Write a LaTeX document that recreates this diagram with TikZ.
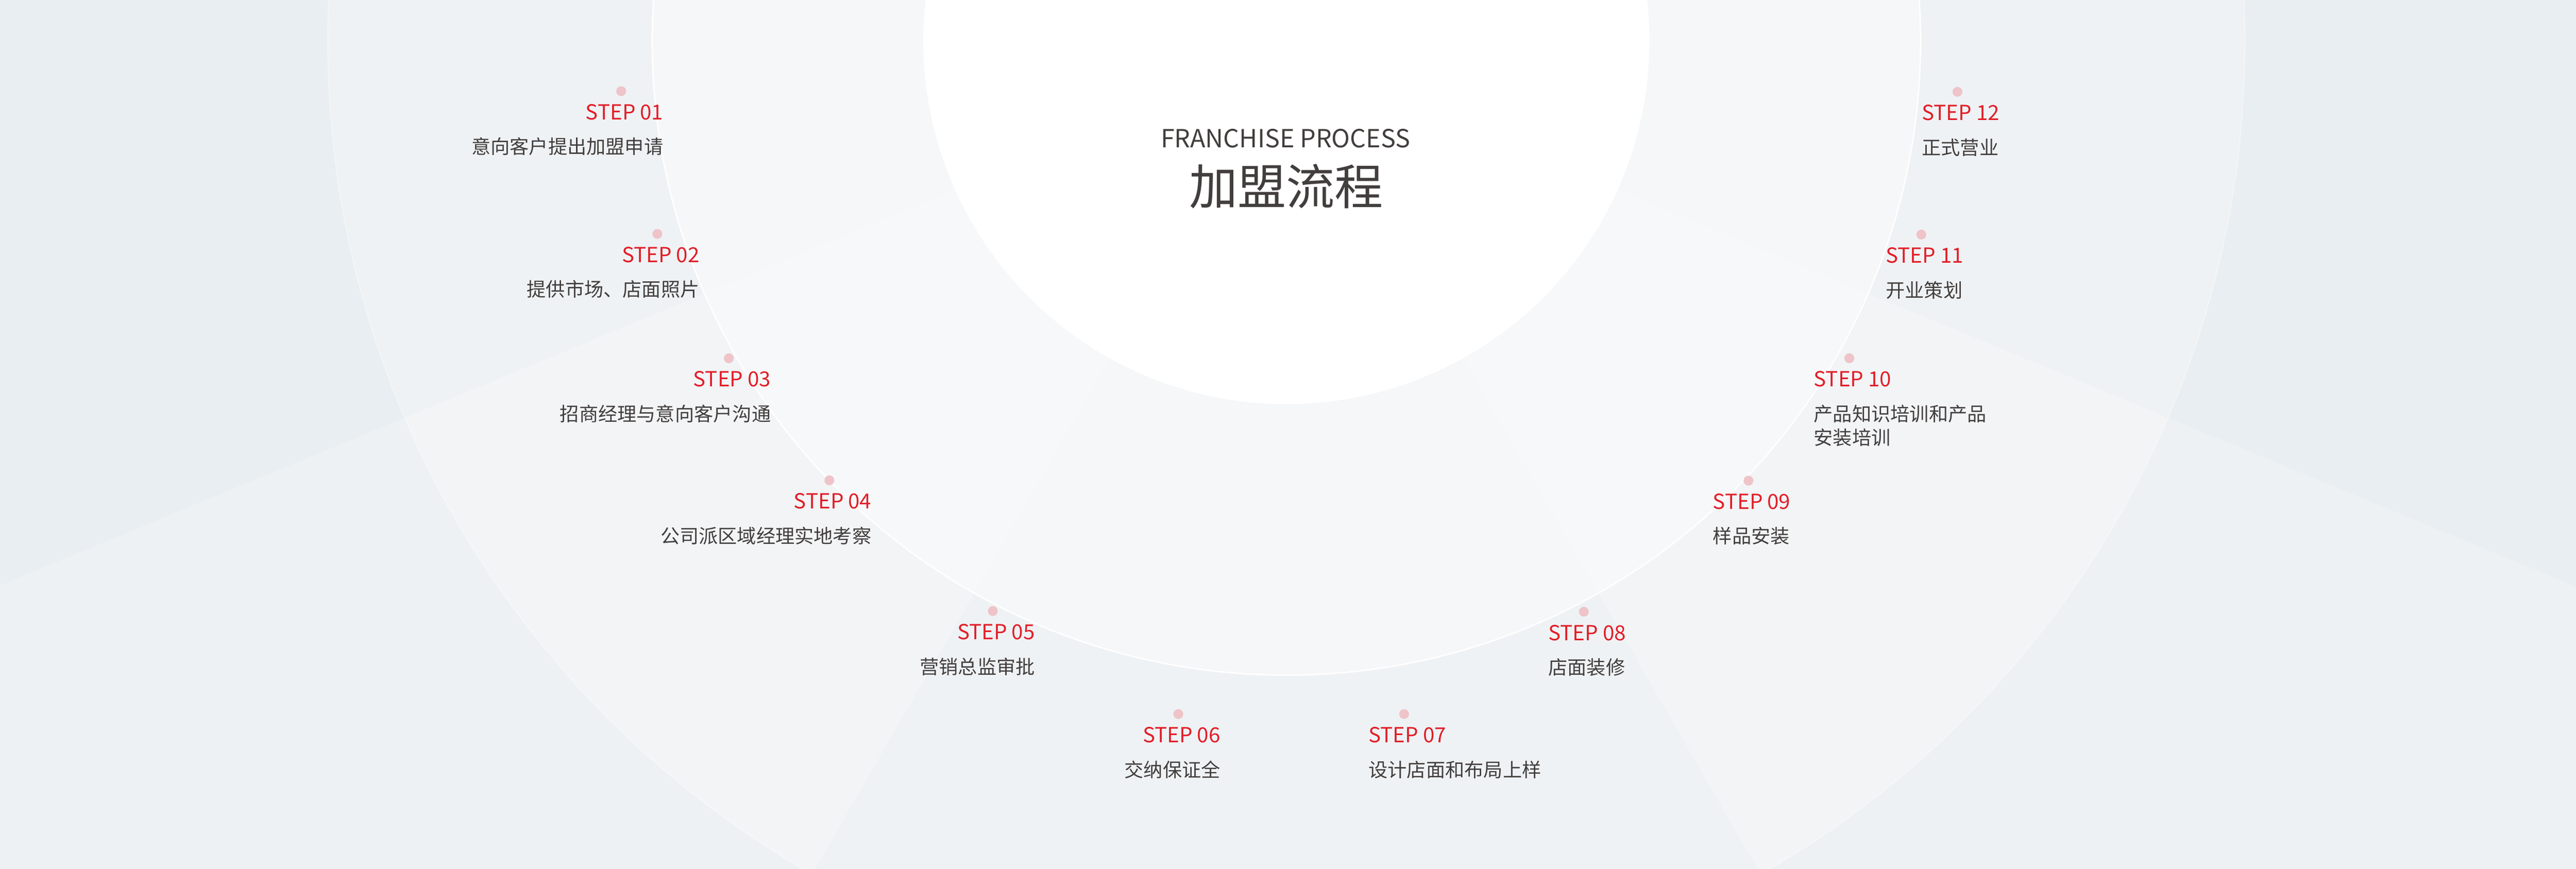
\documentclass[tikz,border=0pt]{standalone}
\usepackage{fontspec}
\setmainfont{Noto Sans CJK SC}
\usetikzlibrary{positioning}

\definecolor{stepred}{RGB}{226,30,40}
\definecolor{dotpink}{RGB}{238,196,200}
\definecolor{textgray}{RGB}{66,62,61}
\definecolor{bgouter}{RGB}{233,238,242}
\definecolor{bgring}{RGB}{239,242,244}
\definecolor{bgmid}{RGB}{245,247,248}

\begin{document}
\begin{tikzpicture}[x=0.025cm,y=-0.025cm,
  stepname/.style={font=\fontsize{9}{10}\selectfont,text=stepred,inner sep=0pt},
  stepdesc/.style={font=\fontsize{8.3}{10}\selectfont,text=textgray,inner sep=0pt,align=left},
  stepdot/.style={circle,fill=dotpink,minimum size=0.15cm,inner sep=0pt}]
\useasboundingbox (0,0) rectangle (1568,529);

% background rings
\fill[bgouter] (0,0) rectangle (1568,529);
\begin{scope}
\clip (0,0) rectangle (1568,529);
\fill[bgring] (783,25) circle (583.5);
\fill[bgmid] (783,25) circle (386);
\fill[white,opacity=0.2] (783,32) -- +(22.5:2000) -- +(60:2000) -- cycle;
\fill[white,opacity=0.2] (783,32) -- +(157.5:2000) -- +(120:2000) -- cycle;
\draw[white,opacity=0.4,line width=0.4pt] (783,25) circle (583.5);
\draw[white,line width=0.6pt] (783,25) circle (386);
\fill[white] (783,25) circle (221);
\end{scope}

% title
\node[font=\fontsize{10.8}{12}\selectfont,text=textgray,anchor=base] (titleen) at (782.5,89.7) {FRANCHISE PROCESS};
\node[font=\fontsize{21}{24}\selectfont,text=textgray,anchor=base] (titlecn) at (783,124.5) {加盟流程};

% left steps
\node[stepname,anchor=base east] (s01) at (404,72.9) {STEP 01};
\node[stepname,anchor=base east] (s02) at (426,159.8) {STEP 02};
\node[stepname,anchor=base east] (s03) at (469.5,235.5) {STEP 03};
\node[stepname,anchor=base east] (s04) at (530.7,309.8) {STEP 04};
\node[stepname,anchor=base east] (s05) at (630.2,389.4) {STEP 05};
\node[stepname,anchor=base east] (s06) at (743.1,452.1) {STEP 06};

% right steps
\node[stepname,anchor=base west] (s07) at (832.8,452.1) {STEP 07};
\node[stepname,anchor=base west] (s08) at (942.2,389.8) {STEP 08};
\node[stepname,anchor=base west] (s09) at (1042.4,310) {STEP 09};
\node[stepname,anchor=base west] (s10) at (1103.8,235.5) {STEP 10};
\node[stepname,anchor=base west] (s11) at (1147.6,160.2) {STEP 11};
\node[stepname,anchor=base west] (s12) at (1169.6,73.3) {STEP 12};

% dots
\node[stepdot,above=0.11cm of s01,xshift=-0.05cm] (p01) {};
\node[stepdot,above=0.11cm of s02,xshift=-0.05cm] (p02) {};
\node[stepdot,above=0.11cm of s03,xshift=-0.05cm] (p03) {};
\node[stepdot,above=0.11cm of s04,xshift=-0.05cm] (p04) {};
\node[stepdot,above=0.11cm of s05,xshift=-0.05cm] (p05) {};
\node[stepdot,above=0.11cm of s06,xshift=-0.05cm] (p06) {};
\node[stepdot,above=0.11cm of s07,xshift=-0.05cm] (p07) {};
\node[stepdot,above=0.11cm of s08,xshift=-0.05cm] (p08) {};
\node[stepdot,above=0.11cm of s09,xshift=-0.05cm] (p09) {};
\node[stepdot,above=0.11cm of s10,xshift=-0.05cm] (p10) {};
\node[stepdot,above=0.11cm of s11,xshift=-0.05cm] (p11) {};
\node[stepdot,above=0.11cm of s12,xshift=-0.05cm] (p12) {};

% descriptions
\node[stepdesc,anchor=base east] (d01) at ([yshift=-0.52cm]s01.base east) {意向客户提出加盟申请};
\node[stepdesc,anchor=base east] (d02) at ([yshift=-0.52cm]s02.base east) {提供市场、店面照片};
\node[stepdesc,anchor=base east] (d03) at ([yshift=-0.52cm]s03.base east) {招商经理与意向客户沟通};
\node[stepdesc,anchor=base east] (d04) at ([yshift=-0.52cm]s04.base east) {公司派区域经理实地考察};
\node[stepdesc,anchor=base east] (d05) at ([yshift=-0.52cm]s05.base east) {营销总监审批};
\node[stepdesc,anchor=base east] (d06) at ([yshift=-0.52cm]s06.base east) {交纳保证全};
\node[stepdesc,anchor=base west] (d07) at ([yshift=-0.52cm]s07.base west) {设计店面和布局上样};
\node[stepdesc,anchor=base west] (d08) at ([yshift=-0.52cm]s08.base west) {店面装修};
\node[stepdesc,anchor=base west] (d09) at ([yshift=-0.52cm]s09.base west) {样品安装};
\node[stepdesc,anchor=base west] (d10) at ([yshift=-0.52cm]s10.base west) {产品知识培训和产品};
\node[stepdesc,anchor=base west] (d10b) at ([yshift=-0.36cm]d10.base west) {安装培训};
\node[stepdesc,anchor=base west] (d11) at ([yshift=-0.52cm]s11.base west) {开业策划};
\node[stepdesc,anchor=base west] (d12) at ([yshift=-0.52cm]s12.base west) {正式营业};
\end{tikzpicture}
\end{document}
